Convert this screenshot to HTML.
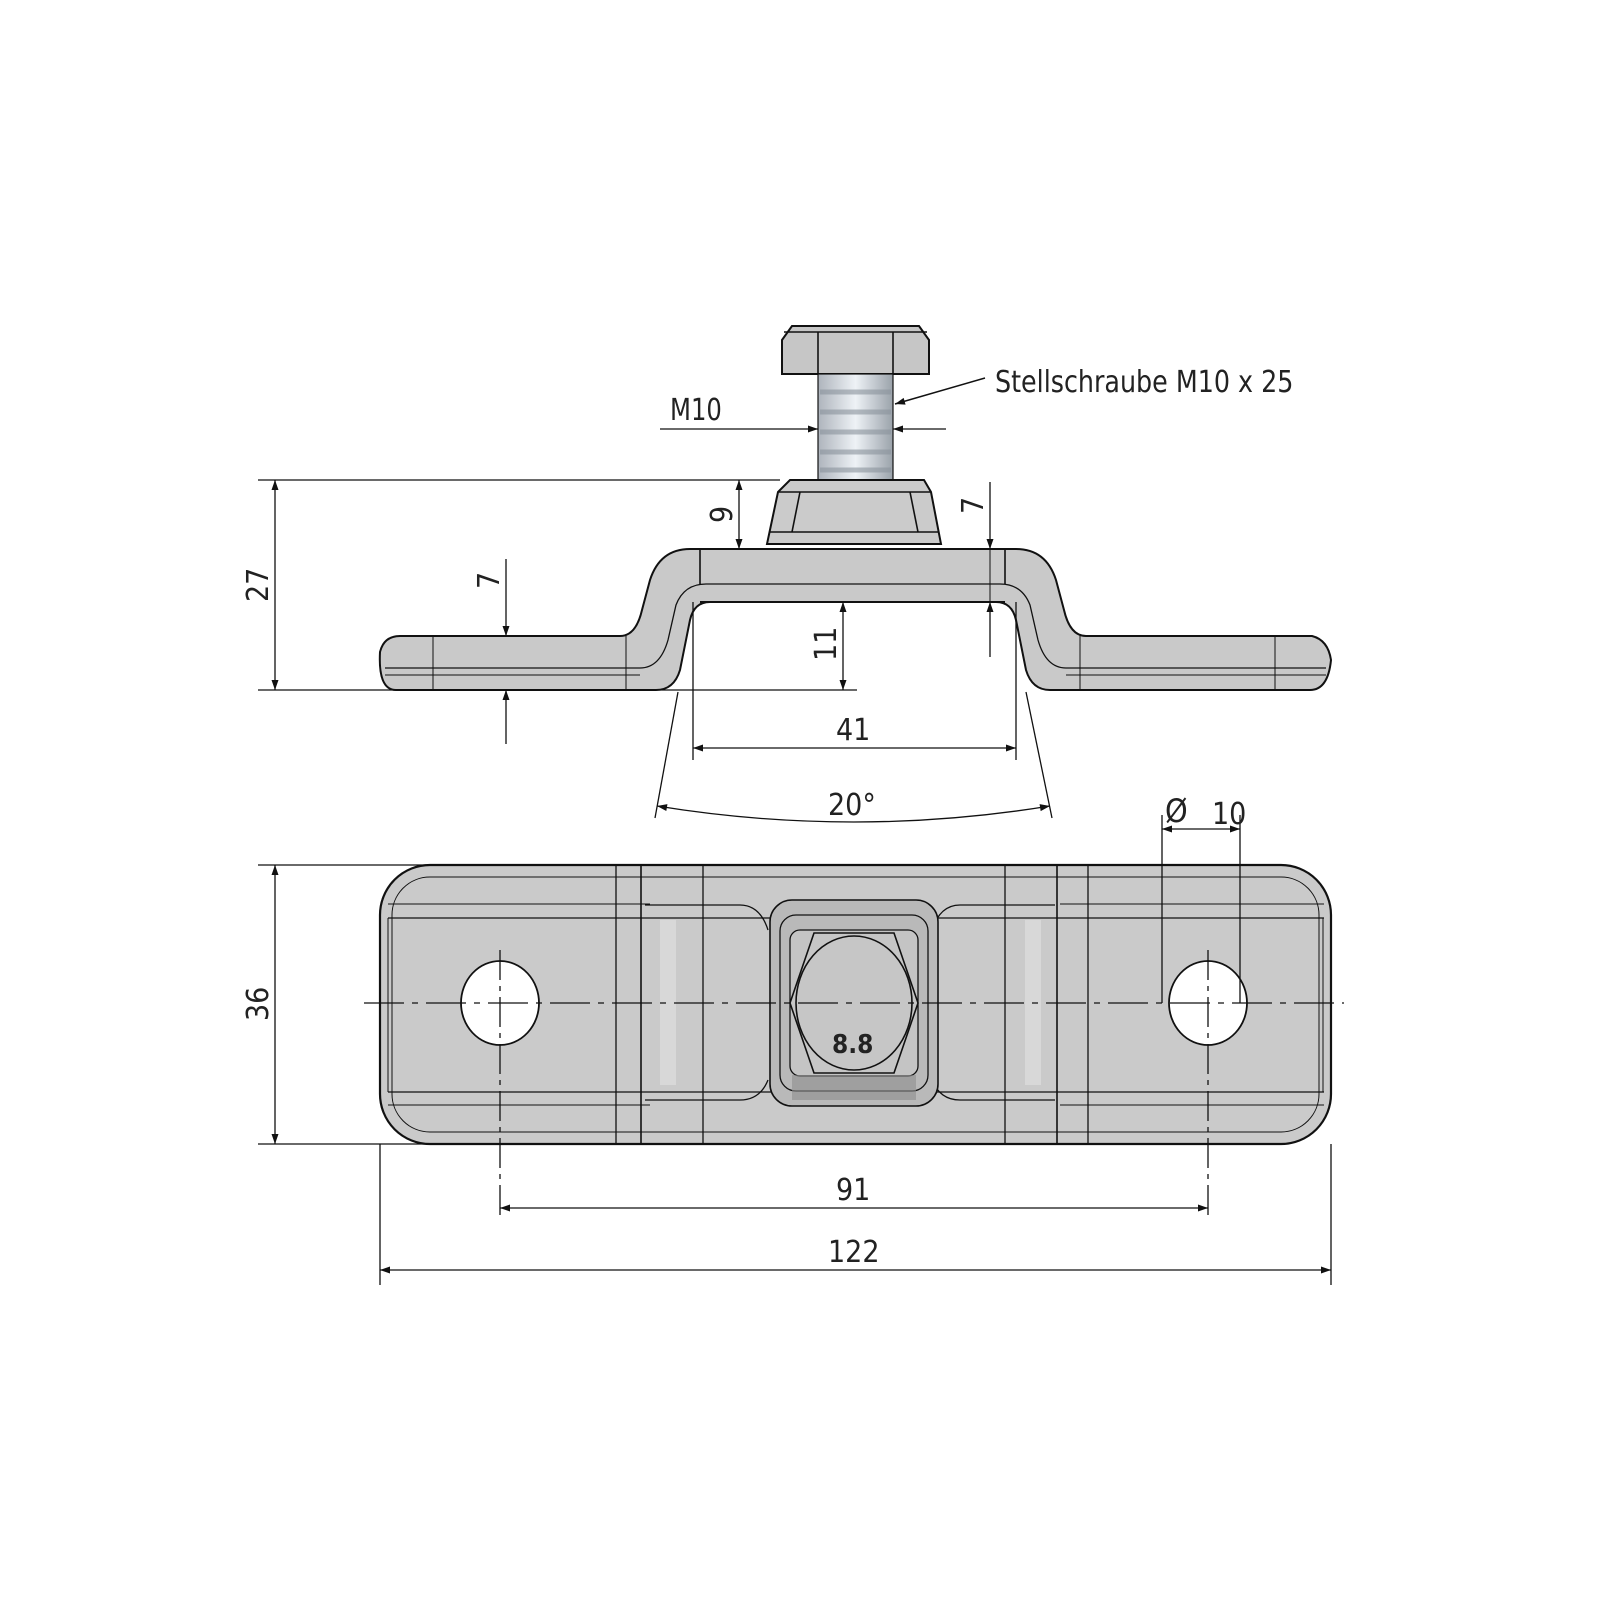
<!DOCTYPE html>
<html><head><meta charset="utf-8"><style>
html,body{margin:0;padding:0;background:#fff}
svg{display:block}
text{font-family:"DejaVu Sans Condensed","Liberation Sans",sans-serif;fill:#222}
</style></head><body>
<svg width="1600" height="1600" viewBox="0 0 1600 1600" xmlns="http://www.w3.org/2000/svg">
<defs>
<marker id="a" viewBox="0 0 10 10" refX="10" refY="5" markerWidth="22" markerHeight="10" markerUnits="userSpaceOnUse" orient="auto-start-reverse"><path d="M0,1.5 L10,5 L0,8.5 z" fill="#111"/></marker>
<linearGradient id="sh" x1="0" x2="1"><stop offset="0" stop-color="#aeb4bc"/><stop offset=".5" stop-color="#eef2f6"/><stop offset="1" stop-color="#9aa2aa"/></linearGradient>
</defs>
<g stroke="#111" fill="none" stroke-width="1.6">
<path d="M782,340 L792,326 L919,326 L929,340 L929,374 L782,374 Z" fill="#c6c6c6" stroke-width="2"/>
<line x1="818" y1="332" x2="818" y2="374"/><line x1="893" y1="332" x2="893" y2="374"/>
<line x1="784" y1="332" x2="927" y2="332"/>
<rect x="818" y="374" width="75" height="106" fill="url(#sh)" stroke-width="1.2"/>
<g stroke="#8a939c" stroke-width="5" opacity=".6"><line x1="820" y1="392" x2="891" y2="392"/><line x1="820" y1="412" x2="891" y2="412"/><line x1="820" y1="432" x2="891" y2="432"/><line x1="820" y1="452" x2="891" y2="452"/><line x1="820" y1="470" x2="891" y2="470"/></g>
<path d="M790,480 L924,480 L931,492 L941,544 L767,544 L778,492 Z" fill="#cbcbcb" stroke-width="2"/>
<line x1="778" y1="492" x2="931" y2="492"/><line x1="770" y1="532" x2="938" y2="532"/>
<line x1="800" y1="492" x2="792" y2="532"/><line x1="910" y1="492" x2="918" y2="532"/>
<path d="M380,652 Q384,636 400,636 L620,636 Q636,636 642,610 L650,580 Q660,549 690,549 L1016,549 Q1046,549 1056,580 L1064,610 Q1070,636 1086,636 L1312,636 Q1328,640 1331,660 Q1328,690 1310,690 L1050,690 Q1032,690 1026,670 L1016,620 Q1012,602 996,602 L710,602 Q694,602 690,620 L680,670 Q674,690 656,690 L396,690 Q378,690 380,652 Z" fill="#c9c9c9" stroke-width="2"/>
<path d="M385,668 L640,668 Q660,668 668,640 L676,605 Q684,584 706,584 L1000,584 Q1022,584 1030,605 L1038,640 Q1046,668 1066,668 L1326,668" stroke-width="1.3"/>
<path d="M385,675 L640,675" stroke-width="1"/><path d="M1066,675 L1326,675" stroke-width="1"/>
<line x1="700" y1="549" x2="700" y2="584"/><line x1="1005" y1="549" x2="1005" y2="584"/>
<line x1="700" y1="602" x2="1005" y2="602" stroke-width="2"/>
<line x1="433" y1="636" x2="433" y2="690" stroke-width="1"/><line x1="1275" y1="636" x2="1275" y2="690" stroke-width="1"/>
<line x1="626" y1="636" x2="626" y2="690" stroke-width="1"/><line x1="1080" y1="636" x2="1080" y2="690" stroke-width="1"/>
<line x1="258" y1="480" x2="780" y2="480" stroke-width="1.3"/>
<line x1="258" y1="690" x2="857" y2="690" stroke-width="1.3"/>
<line x1="275" y1="480" x2="275" y2="690" marker-start="url(#a)" marker-end="url(#a)" stroke-width="1.3"/>
<line x1="739" y1="480" x2="739" y2="549" marker-start="url(#a)" marker-end="url(#a)" stroke-width="1.3"/>
<line x1="990" y1="482" x2="990" y2="549" marker-end="url(#a)" stroke-width="1.3"/>
<line x1="990" y1="657" x2="990" y2="602" marker-end="url(#a)" stroke-width="1.3"/>
<line x1="990" y1="549" x2="990" y2="602" stroke-width="1"/>
<line x1="506" y1="559" x2="506" y2="636" marker-end="url(#a)" stroke-width="1.3"/>
<line x1="506" y1="744" x2="506" y2="690" marker-end="url(#a)" stroke-width="1.3"/>
<line x1="843" y1="602" x2="843" y2="690" marker-start="url(#a)" marker-end="url(#a)" stroke-width="1.3"/>
<line x1="693" y1="602" x2="693" y2="760" stroke-width="1.3"/>
<line x1="1016" y1="602" x2="1016" y2="760" stroke-width="1.3"/>
<line x1="693" y1="748" x2="1016" y2="748" marker-start="url(#a)" marker-end="url(#a)" stroke-width="1.3"/>
<line x1="678" y1="692" x2="655" y2="818" stroke-width="1.3"/>
<line x1="1026" y1="692" x2="1052" y2="818" stroke-width="1.3"/>
<path d="M657,806 Q854,838 1050,806" marker-start="url(#a)" marker-end="url(#a)" stroke-width="1.3"/>
<line x1="660" y1="429" x2="818" y2="429" marker-end="url(#a)" stroke-width="1.3"/>
<line x1="946" y1="429" x2="893" y2="429" marker-end="url(#a)" stroke-width="1.3"/>
<line x1="985" y1="378" x2="895" y2="404" marker-end="url(#a)" stroke-width="1.5"/>

<rect x="380" y="865" width="951" height="279" rx="50" ry="50" fill="#cacaca" stroke-width="2.2"/>
<rect x="392" y="877" width="927" height="255" rx="38" ry="38" stroke-width="1"/>
<line x1="388" y1="918" x2="1324" y2="918" stroke-width="1.3"/>
<line x1="388" y1="1092" x2="1324" y2="1092" stroke-width="1.3"/>
<line x1="388" y1="904" x2="650" y2="904" stroke-width="1"/><line x1="1060" y1="904" x2="1324" y2="904" stroke-width="1"/>
<line x1="388" y1="1105" x2="650" y2="1105" stroke-width="1"/><line x1="1060" y1="1105" x2="1324" y2="1105" stroke-width="1"/>
<line x1="388" y1="918" x2="388" y2="1092" stroke-width="1"/><line x1="1323" y1="918" x2="1323" y2="1092" stroke-width="1"/>
<path d="M641,865 L641,1144 M1057,865 L1057,1144" stroke-width="1.6"/>
<line x1="616" y1="865" x2="616" y2="1144" stroke-width="1.3"/>
<line x1="703" y1="865" x2="703" y2="1144" stroke-width="1.3"/>
<line x1="1005" y1="865" x2="1005" y2="1144" stroke-width="1.3"/>
<line x1="1088" y1="865" x2="1088" y2="1144" stroke-width="1.3"/>
<path d="M645,905 L740,905 Q760,905 768,930" stroke-width="1.3"/>
<path d="M1055,905 L960,905 Q940,905 932,930" stroke-width="1.3"/>
<path d="M645,1100 L740,1100 Q760,1100 768,1080" stroke-width="1.3"/>
<path d="M1055,1100 L960,1100 Q940,1100 932,1080" stroke-width="1.3"/>
<rect x="660" y="920" width="16" height="165" fill="#d8d8d8" stroke="none"/>
<rect x="1025" y="920" width="16" height="165" fill="#d8d8d8" stroke="none"/>
<rect x="770" y="900" width="168" height="206" rx="22" fill="#b9b9b9" stroke-width="1.6"/>
<rect x="780" y="915" width="148" height="176" rx="16" stroke-width="1.3"/>
<rect x="790" y="930" width="128" height="146" rx="10" fill="#c4c4c4" stroke-width="1.3"/>
<rect x="792" y="1075" width="124" height="25" fill="#8e8e8e" stroke="none" opacity=".6"/>
<path d="M814,933 L894,933 L918,1003 L894,1073 L814,1073 L790,1003 Z" fill="#c6c6c6" stroke-width="1.6"/>
<ellipse cx="854" cy="1003" rx="58" ry="67" stroke-width="1.6"/>
<ellipse cx="500" cy="1003" rx="39" ry="42" fill="#fff" stroke-width="1.8"/>
<ellipse cx="1208" cy="1003" rx="39" ry="42" fill="#fff" stroke-width="1.8"/>
<line x1="364" y1="1003" x2="1344" y2="1003" stroke-dasharray="40,8,6,8" stroke-width="1.3"/>
<line x1="500" y1="950" x2="500" y2="1220" stroke-dasharray="30,6,5,6" stroke-width="1.3"/>
<line x1="1208" y1="950" x2="1208" y2="1220" stroke-dasharray="30,6,5,6" stroke-width="1.3"/>
<line x1="258" y1="865" x2="430" y2="865" stroke-width="1.3"/>
<line x1="258" y1="1144" x2="430" y2="1144" stroke-width="1.3"/>
<line x1="275" y1="865" x2="275" y2="1144" marker-start="url(#a)" marker-end="url(#a)" stroke-width="1.3"/>
<line x1="500" y1="1208" x2="1208" y2="1208" marker-start="url(#a)" marker-end="url(#a)" stroke-width="1.3"/>
<line x1="380" y1="1144" x2="380" y2="1285" stroke-width="1.3"/>
<line x1="1331" y1="1144" x2="1331" y2="1285" stroke-width="1.3"/>
<line x1="380" y1="1270" x2="1331" y2="1270" marker-start="url(#a)" marker-end="url(#a)" stroke-width="1.3"/>
<line x1="1162" y1="815" x2="1162" y2="1003" stroke-width="1.3"/>
<line x1="1240" y1="815" x2="1240" y2="1003" stroke-width="1.3"/>
<line x1="1162" y1="829" x2="1240" y2="829" marker-start="url(#a)" marker-end="url(#a)" stroke-width="1.3"/>
</g>
<g font-size="30">
<text x="995" y="392" transform="translate(995 0) scale(0.94 1) translate(-995 0)">Stellschraube M10 x 25</text>
<text x="670" y="420" transform="translate(670 0) scale(0.9 1) translate(-670 0)">M10</text>
<text x="0" y="0" transform="translate(268 602) rotate(-90)">27</text>
<text x="0" y="0" transform="translate(732 523) rotate(-90)">9</text>
<text x="0" y="0" transform="translate(983 514) rotate(-90)">7</text>
<text x="0" y="0" transform="translate(499 589) rotate(-90)">7</text>
<text x="0" y="0" transform="translate(836 661) rotate(-90)">11</text>
<text x="836" y="740">41</text>
<text x="828" y="815">20°</text>
<text x="0" y="0" transform="translate(268 1021) rotate(-90)">36</text>
<text x="836" y="1200">91</text>
<text x="828" y="1262">122</text>
<text x="1165" y="822" font-size="32">Ø</text>
<text x="1212" y="824">10</text>
<text x="832" y="1053" font-size="26" font-weight="bold">8.8</text>
</g>
</svg>
</body></html>
